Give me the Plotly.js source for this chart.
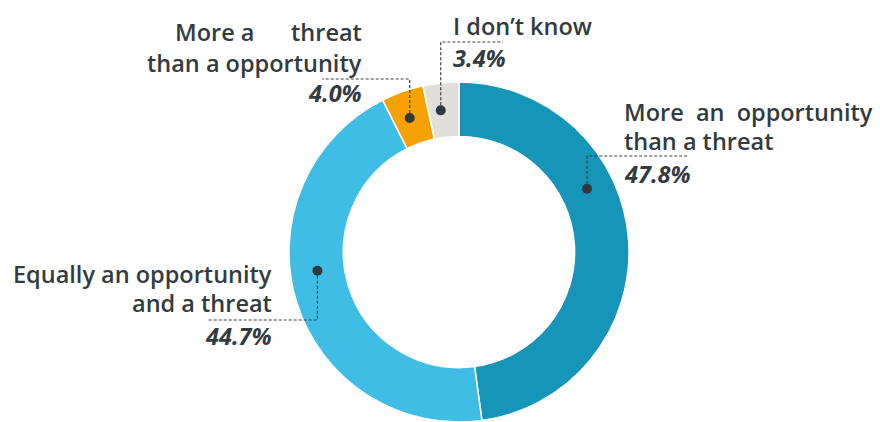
<!DOCTYPE html>
<html>
<head>
<meta charset="utf-8">
<script src="https://cdn.plot.ly/plotly-3.0.1.min.js"></script>
<style>html,body{margin:0;padding:0;background:#fff;}#chart{width:880px;height:422px;}</style>
</head>
<body>
<div id="chart"></div>
<script>
// ---- data ----
const categories = ["More an opportunity than a threat", "Equally an opportunity and a threat", "More a threat than a opportunity", "I don’t know"];
const values = [47.8, 44.7, 4.0, 3.4];
const valueLabels = ["47.8%", "44.7%", "4.0%", "3.4%"];
const labelLines = [
  ["More\u00A0 an\u00A0 opportunity", "than a threat"],
  ["Equally an opportunity", "and a threat"],
  ["More a\u00A0\u00A0\u00A0\u00A0\u00A0 threat", "than a opportunity"],
  ["I don’t know"]
];
const colors = ["#1795b8", "#40bde5", "#f5a100", "#e1dfdb"];

// ---- layout config (positions / styles) ----
const W = 880, H = 422;
const domX = [288 / W, 630 / W];
const domY = [0, 340 / H];
const hole = 0.68;
const textColor = "#333b3f";
const fontFam = "'Open Sans', sans-serif";
const fs = 23.5;
// per slice: where the dot sits inside its slice (fraction of slice angle), and label callout layout (pixels)
const callouts = [
  {frac: 0.37, elbowY: 156, endX: 688, side: "left", textX: 622, lineY: [112, 141], pctY: 174},
  {frac: 0.56, elbowY: 320, endX: 207, side: "right", textX: 274, lineY: [274, 303], pctY: 336},
  {frac: 0.45, elbowY: 79, endX: 322, side: "right", textX: 364, lineY: [32, 63], pctY: 93},
  {frac: 0.40, elbowY: 42, endX: 503, side: "left", textX: 451, lineY: [26], pctY: 58}
];

// pie geometry in pixels (derived from domain)
const pxW = (domX[1] - domX[0]) * W, pxH = (domY[1] - domY[0]) * H;
const R = Math.min(pxW, pxH) / 2;
const cx = (domX[0] + domX[1]) / 2 * W;
const cy = H - (domY[0] + domY[1]) / 2 * H;
const rMid = R * (1 + hole) / 2;

const px = x => x / W;
const py = y => 1 - y / H;

const total = values.reduce((a, b) => a + b, 0);
let cum = 0;
const shapes = [];
const annotations = [];
values.forEach((v, i) => {
  const c = callouts[i];
  const a0 = cum / total * 2 * Math.PI;
  const a1 = (cum + v) / total * 2 * Math.PI;
  cum += v;
  const ang = a0 + (a1 - a0) * c.frac;
  const dx = cx + rMid * Math.sin(ang);
  const dy = cy - rMid * Math.cos(ang);
  shapes.push({
    type: "path", xref: "paper", yref: "paper",
    path: `M ${px(dx)} ${py(dy)} L ${px(dx)} ${py(c.elbowY)} L ${px(c.endX)} ${py(c.elbowY)}`,
    line: {color: "#3a4347", width: 1.2, dash: "3px,2px"}
  });
  const rd = 5;
  shapes.push({
    type: "circle", xref: "paper", yref: "paper",
    x0: px(dx - rd), x1: px(dx + rd), y0: py(dy + rd), y1: py(dy - rd),
    fillcolor: "#2f383c", line: {width: 0}
  });
  labelLines[i].forEach((t, k) => {
    annotations.push({
      xref: "paper", yref: "paper", x: px(c.textX), y: py(c.lineY[k]),
      xanchor: c.side, yanchor: "middle", showarrow: false,
      text: t, font: {family: fontFam, size: fs, color: textColor, weight: 600}
    });
  });
  annotations.push({
    xref: "paper", yref: "paper", x: px(c.textX), y: py(c.pctY),
    xanchor: c.side, yanchor: "middle", showarrow: false,
    text: "<b><i>" + valueLabels[i] + "</i></b>",
    font: {family: fontFam, size: fs, color: textColor}
  });
});

const trace = {
  type: "pie",
  labels: categories,
  values: values,
  sort: false,
  direction: "clockwise",
  rotation: 0,
  hole: hole,
  domain: {x: domX, y: domY},
  marker: {colors: colors, line: {color: "#ffffff", width: 1.5}},
  textinfo: "none",
  hoverinfo: "none",
  showlegend: false
};

const layout = {
  width: W, height: H,
  margin: {l: 0, r: 0, t: 0, b: 0},
  paper_bgcolor: "#ffffff",
  showlegend: false,
  shapes: shapes,
  annotations: annotations
};

Plotly.newPlot("chart", [trace], layout, {displayModeBar: false, staticPlot: true});
</script>
</body>
</html>
